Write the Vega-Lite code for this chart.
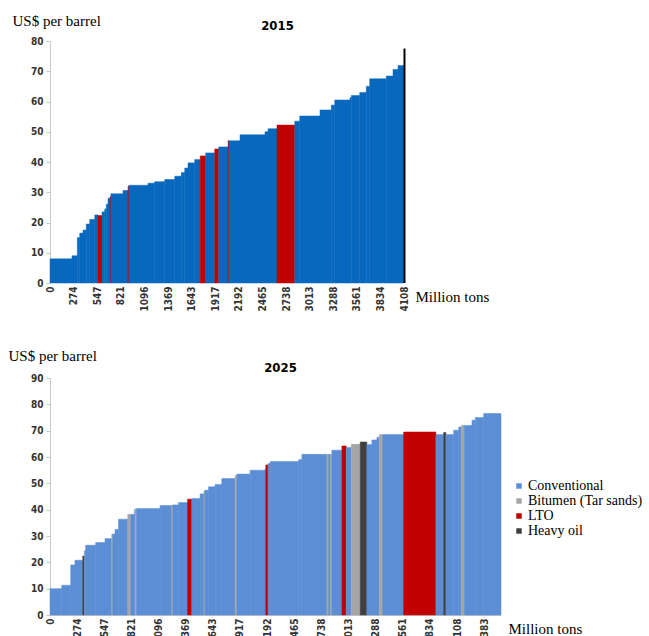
{
  "$schema": "https://vega.github.io/schema/vega-lite/v6.json",
  "background": "white",
  "padding": {"left": 8, "top": 13, "right": 5, "bottom": 0},
  "spacing": 36,
  "config": {
    "view": {"stroke": null},
    "axis": {"grid": false, "labelFont": "DejaVu Sans Condensed, Liberation Sans", "labelFontWeight": "bold", "labelFontSize": 10, "labelColor": "#333333", "domainColor": "#c8c8c8", "tickColor": "#c8c8c8"},
    "title": {"font": "DejaVu Sans Condensed, Liberation Sans", "fontWeight": "bold", "fontSize": 13, "color": "#000000"}
  },
  "datasets": {
    "d2015": [
      {"start": 0, "end": 255, "price": 8, "type": "Conventional"},
      {"start": 255, "end": 317, "price": 9, "type": "Conventional"},
      {"start": 317, "end": 345, "price": 15, "type": "Conventional"},
      {"start": 345, "end": 383, "price": 16.5, "type": "Conventional"},
      {"start": 383, "end": 421, "price": 17.5, "type": "Conventional"},
      {"start": 421, "end": 461, "price": 19.5, "type": "Conventional"},
      {"start": 461, "end": 519, "price": 21, "type": "Conventional"},
      {"start": 519, "end": 557, "price": 22.5, "type": "Conventional"},
      {"start": 557, "end": 603, "price": 22.3, "type": "LTO"},
      {"start": 603, "end": 635, "price": 23.5, "type": "Conventional"},
      {"start": 635, "end": 653, "price": 24.5, "type": "Conventional"},
      {"start": 653, "end": 673, "price": 26, "type": "Conventional"},
      {"start": 673, "end": 696, "price": 28, "type": "Conventional"},
      {"start": 696, "end": 706, "price": 28.5, "type": "LTO"},
      {"start": 706, "end": 847, "price": 29.5, "type": "Conventional"},
      {"start": 847, "end": 905, "price": 30.6, "type": "Conventional"},
      {"start": 905, "end": 915, "price": 32, "type": "LTO"},
      {"start": 915, "end": 1137, "price": 32.3, "type": "Conventional"},
      {"start": 1137, "end": 1214, "price": 33, "type": "Conventional"},
      {"start": 1214, "end": 1331, "price": 33.5, "type": "Conventional"},
      {"start": 1331, "end": 1447, "price": 34.2, "type": "Conventional"},
      {"start": 1447, "end": 1523, "price": 35.3, "type": "Conventional"},
      {"start": 1523, "end": 1563, "price": 36.5, "type": "Conventional"},
      {"start": 1563, "end": 1601, "price": 38, "type": "Conventional"},
      {"start": 1601, "end": 1679, "price": 39.7, "type": "Conventional"},
      {"start": 1679, "end": 1743, "price": 40.8, "type": "Conventional"},
      {"start": 1743, "end": 1806, "price": 42, "type": "LTO"},
      {"start": 1806, "end": 1911, "price": 43, "type": "Conventional"},
      {"start": 1911, "end": 1957, "price": 44.3, "type": "LTO"},
      {"start": 1957, "end": 2065, "price": 45, "type": "Conventional"},
      {"start": 2065, "end": 2075, "price": 47, "type": "LTO"},
      {"start": 2075, "end": 2204, "price": 47, "type": "Conventional"},
      {"start": 2204, "end": 2494, "price": 49, "type": "Conventional"},
      {"start": 2494, "end": 2529, "price": 50, "type": "Conventional"},
      {"start": 2529, "end": 2633, "price": 51, "type": "Conventional"},
      {"start": 2633, "end": 2839, "price": 52.2, "type": "LTO"},
      {"start": 2839, "end": 2897, "price": 53.5, "type": "Conventional"},
      {"start": 2897, "end": 3132, "price": 55.2, "type": "Conventional"},
      {"start": 3132, "end": 3263, "price": 57.2, "type": "Conventional"},
      {"start": 3263, "end": 3303, "price": 58.8, "type": "Conventional"},
      {"start": 3303, "end": 3480, "price": 60.5, "type": "Conventional"},
      {"start": 3480, "end": 3495, "price": 61.2, "type": "Conventional"},
      {"start": 3495, "end": 3593, "price": 62, "type": "Conventional"},
      {"start": 3593, "end": 3669, "price": 63, "type": "Conventional"},
      {"start": 3669, "end": 3709, "price": 65, "type": "Conventional"},
      {"start": 3709, "end": 3901, "price": 67.5, "type": "Conventional"},
      {"start": 3901, "end": 3979, "price": 68.4, "type": "Conventional"},
      {"start": 3979, "end": 4037, "price": 70.6, "type": "Conventional"},
      {"start": 4037, "end": 4106, "price": 71.9, "type": "Conventional"}
    ],
    "edge2015": [
      {"start": 4112, "price": 77.5}
    ],
    "d2025": [
      {"start": 0, "end": 118, "price": 10, "type": "Conventional"},
      {"start": 118, "end": 209, "price": 11.3, "type": "Conventional"},
      {"start": 209, "end": 252, "price": 19, "type": "Conventional"},
      {"start": 252, "end": 330, "price": 20.8, "type": "Conventional"},
      {"start": 330, "end": 347, "price": 22.4, "type": "Heavy oil"},
      {"start": 347, "end": 360, "price": 24.4, "type": "Conventional"},
      {"start": 360, "end": 461, "price": 26.5, "type": "Conventional"},
      {"start": 461, "end": 555, "price": 27.5, "type": "Conventional"},
      {"start": 555, "end": 623, "price": 29, "type": "Conventional"},
      {"start": 623, "end": 633, "price": 30.7, "type": "Bitumen (Tar sands)"},
      {"start": 633, "end": 656, "price": 30.7, "type": "Conventional"},
      {"start": 656, "end": 691, "price": 32.5, "type": "Conventional"},
      {"start": 691, "end": 785, "price": 36.4, "type": "Conventional"},
      {"start": 785, "end": 815, "price": 38.2, "type": "Bitumen (Tar sands)"},
      {"start": 815, "end": 852, "price": 38.2, "type": "Conventional"},
      {"start": 852, "end": 862, "price": 40, "type": "Conventional"},
      {"start": 862, "end": 874, "price": 40.4, "type": "Bitumen (Tar sands)"},
      {"start": 874, "end": 1111, "price": 40.4, "type": "Conventional"},
      {"start": 1111, "end": 1229, "price": 41.6, "type": "Conventional"},
      {"start": 1229, "end": 1241, "price": 41.8, "type": "Bitumen (Tar sands)"},
      {"start": 1241, "end": 1297, "price": 41.8, "type": "Conventional"},
      {"start": 1297, "end": 1388, "price": 42.7, "type": "Conventional"},
      {"start": 1388, "end": 1431, "price": 44, "type": "LTO"},
      {"start": 1431, "end": 1515, "price": 44.2, "type": "Conventional"},
      {"start": 1515, "end": 1553, "price": 46, "type": "Conventional"},
      {"start": 1553, "end": 1563, "price": 47, "type": "Bitumen (Tar sands)"},
      {"start": 1563, "end": 1600, "price": 47.4, "type": "Conventional"},
      {"start": 1600, "end": 1666, "price": 48.7, "type": "Conventional"},
      {"start": 1666, "end": 1734, "price": 49.6, "type": "Conventional"},
      {"start": 1734, "end": 1868, "price": 51.8, "type": "Conventional"},
      {"start": 1868, "end": 1886, "price": 53, "type": "Bitumen (Tar sands)"},
      {"start": 1886, "end": 2020, "price": 53.5, "type": "Conventional"},
      {"start": 2020, "end": 2171, "price": 55, "type": "Conventional"},
      {"start": 2171, "end": 2178, "price": 55.5, "type": "Conventional"},
      {"start": 2178, "end": 2200, "price": 57, "type": "LTO"},
      {"start": 2200, "end": 2222, "price": 57.5, "type": "Conventional"},
      {"start": 2222, "end": 2509, "price": 58.3, "type": "Conventional"},
      {"start": 2509, "end": 2542, "price": 59, "type": "Conventional"},
      {"start": 2542, "end": 2795, "price": 61, "type": "Conventional"},
      {"start": 2795, "end": 2812, "price": 61, "type": "Bitumen (Tar sands)"},
      {"start": 2812, "end": 2830, "price": 61, "type": "Conventional"},
      {"start": 2830, "end": 2845, "price": 61, "type": "Bitumen (Tar sands)"},
      {"start": 2845, "end": 2946, "price": 62.6, "type": "Conventional"},
      {"start": 2946, "end": 2990, "price": 64.2, "type": "LTO"},
      {"start": 2990, "end": 3040, "price": 63.6, "type": "Conventional"},
      {"start": 3040, "end": 3131, "price": 64.8, "type": "Bitumen (Tar sands)"},
      {"start": 3131, "end": 3198, "price": 65.7, "type": "Heavy oil"},
      {"start": 3198, "end": 3249, "price": 64.7, "type": "Conventional"},
      {"start": 3249, "end": 3300, "price": 66.5, "type": "Conventional"},
      {"start": 3300, "end": 3323, "price": 67.5, "type": "Conventional"},
      {"start": 3323, "end": 3357, "price": 68.5, "type": "Bitumen (Tar sands)"},
      {"start": 3357, "end": 3569, "price": 68.5, "type": "Conventional"},
      {"start": 3569, "end": 3895, "price": 69.5, "type": "LTO"},
      {"start": 3895, "end": 3973, "price": 68.5, "type": "Conventional"},
      {"start": 3973, "end": 3996, "price": 69.3, "type": "Heavy oil"},
      {"start": 3996, "end": 4074, "price": 68.5, "type": "Conventional"},
      {"start": 4074, "end": 4125, "price": 70.2, "type": "Conventional"},
      {"start": 4125, "end": 4151, "price": 71.4, "type": "Conventional"},
      {"start": 4151, "end": 4181, "price": 72, "type": "Bitumen (Tar sands)"},
      {"start": 4181, "end": 4259, "price": 72, "type": "Conventional"},
      {"start": 4259, "end": 4292, "price": 74, "type": "Conventional"},
      {"start": 4292, "end": 4377, "price": 75, "type": "Conventional"},
      {"start": 4377, "end": 4552, "price": 76.5, "type": "Conventional"}
    ]
  },
  "resolve": {"scale": {"color": "independent", "stroke": "independent"}, "legend": {"color": "independent"}},
  "vconcat": [
    {
      "width": 355,
      "height": 242,
      "title": {"text": "2015", "frame": "group", "anchor": "middle", "dx": 50, "offset": -20},
      "encoding": {
        "x": {"field": "start", "type": "quantitative",
          "scale": {"domain": [0, 4118], "nice": false, "zero": false},
          "axis": {"values": [0, 274, 547, 821, 1096, 1369, 1643, 1917, 2192, 2465, 2738, 3013, 3288, 3561, 3834, 4108], "format": "d",
            "labelAngle": 270, "labelPadding": 3, "ticks": false, "domain": false, "labelOverlap": false, "labelFlush": false,
            "title": "Million tons", "titleX": 365, "titleY": 18, "titleAlign": "left", "titleBaseline": "alphabetic", "titleAngle": 0,
            "titleFont": "Liberation Serif", "titleFontSize": 15, "titleFontWeight": "normal", "titleColor": "#000000"}},
        "y": {"field": "price", "type": "quantitative",
          "scale": {"domain": [0, 80], "nice": false},
          "axis": {"values": [0, 10, 20, 30, 40, 50, 60, 70, 80], "labelOverlap": false, "tickSize": 4, "labelPadding": 3,
            "title": "US$ per barrel", "titleAngle": 0, "titleX": -38, "titleY": -16, "titleAlign": "left", "titleBaseline": "alphabetic",
            "titleFont": "Liberation Serif", "titleFontSize": 15, "titleFontWeight": "normal", "titleColor": "#000000"}},
        "y2": {"datum": 0}
      },
      "layer": [
        {
          "data": {"name": "d2015"},
          "mark": {"type": "rect", "strokeWidth": 0.5},
          "encoding": {
            "x2": {"field": "end"},
            "color": {"field": "type", "type": "nominal", "scale": {"domain": ["Conventional", "LTO"], "range": ["#0868bd", "#c00000"]}, "legend": null},
            "stroke": {"field": "type", "type": "nominal", "scale": {"domain": ["Conventional", "LTO"], "range": ["#0868bd", "#c00000"]}, "legend": null}
          }
        },
        {
          "data": {"name": "edge2015"},
          "mark": {"type": "rule", "color": "#000000", "strokeWidth": 2},
          "encoding": {}
        }
      ]
    },
    {
      "width": 451,
      "height": 237,
      "title": {"text": "2025", "frame": "group", "anchor": "middle", "dx": 5, "offset": -27},
      "data": {"name": "d2025"},
      "mark": {"type": "rect", "strokeWidth": 0.5},
      "encoding": {
        "x": {"field": "start", "type": "quantitative",
          "scale": {"domain": [0, 4552], "nice": false, "zero": false},
          "axis": {"values": [0, 274, 547, 821, 1096, 1369, 1643, 1917, 2192, 2465, 2738, 3013, 3288, 3561, 3834, 4108, 4383], "format": "d",
            "labelAngle": 270, "labelPadding": 3, "ticks": false, "domain": true, "labelOverlap": false, "labelFlush": false,
            "title": "Million tons", "titleX": 458, "titleY": 18, "titleAlign": "left", "titleBaseline": "alphabetic", "titleAngle": 0,
            "titleFont": "Liberation Serif", "titleFontSize": 15, "titleFontWeight": "normal", "titleColor": "#000000"}},
        "x2": {"field": "end"},
        "y": {"field": "price", "type": "quantitative",
          "scale": {"domain": [0, 90], "nice": false},
          "axis": {"values": [0, 10, 20, 30, 40, 50, 60, 70, 80, 90], "labelOverlap": false, "tickSize": 4, "labelPadding": 3,
            "title": "US$ per barrel", "titleAngle": 0, "titleX": -42, "titleY": -18, "titleAlign": "left", "titleBaseline": "alphabetic",
            "titleFont": "Liberation Serif", "titleFontSize": 15, "titleFontWeight": "normal", "titleColor": "#000000"}},
        "y2": {"datum": 0},
        "color": {"field": "type", "type": "nominal",
          "scale": {"domain": ["Conventional", "Bitumen (Tar sands)", "LTO", "Heavy oil"], "range": ["#5b8ed5", "#a6a6a6", "#c00000", "#404040"]},
          "legend": {"title": null, "orient": "none", "legendX": 462, "legendY": 101, "symbolType": "square", "symbolSize": 30, "symbolStrokeWidth": 0,
            "labelFont": "Liberation Serif", "labelFontSize": 14, "labelColor": "#000000", "rowPadding": 1, "labelOffset": 2, "labelLimit": 200}},
        "stroke": {"field": "type", "type": "nominal",
          "scale": {"domain": ["Conventional", "Bitumen (Tar sands)", "LTO", "Heavy oil"], "range": ["#5b8ed5", "#a6a6a6", "#c00000", "#404040"]},
          "legend": null}
      }
    }
  ]
}
